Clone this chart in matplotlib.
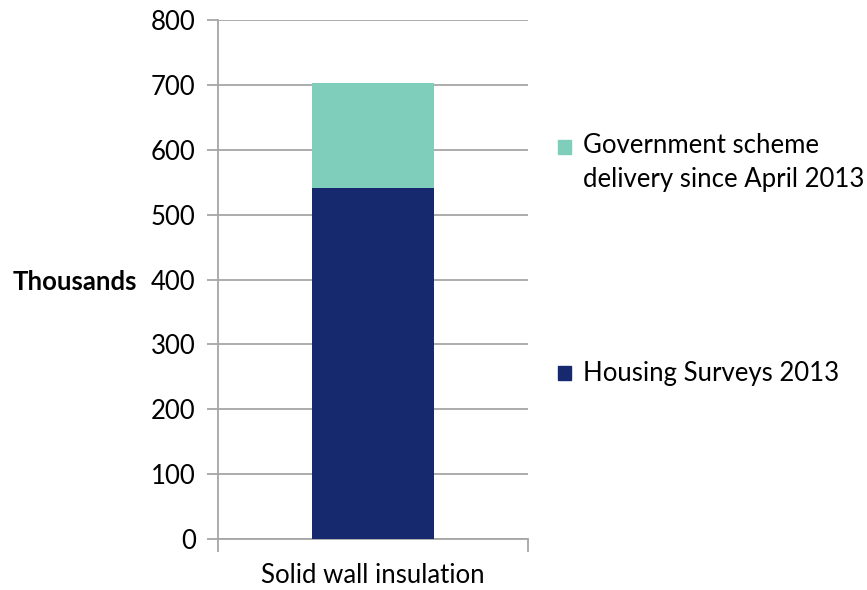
import matplotlib.pyplot as plt
from matplotlib.patches import Rectangle

plt.rcParams['font.family'] = ['Lato', 'DejaVu Sans']

categories = ['Solid wall insulation']
housing_surveys = [541]
govt_delivery = [162]
series_labels = ['Government scheme\ndelivery since April 2013', 'Housing Surveys 2013']
colors = ['#7FCDBB', '#16286E']
grid_col = '#A6A6A6'
fs = 18.5

fig = plt.figure(figsize=(8.67, 5.90), dpi=100)
ax = fig.add_axes([0.2514, 0.0864, 0.3576, 0.8797])

x = list(range(len(categories)))
ax.bar(x, housing_surveys, width=0.395, color=colors[1], zorder=3)
ax.bar(x, govt_delivery, width=0.395, bottom=housing_surveys, color=colors[0], zorder=3)

ax.set_xlim(-0.5, 0.5)
ax.set_ylim(0, 800)
ax.set_yticks(range(0, 801, 100))
ax.yaxis.grid(True, color=grid_col, linewidth=1.3, zorder=0)
ax.tick_params(axis='y', length=8, width=1.3, color=grid_col, labelsize=fs, pad=8)

ax.set_xticks(x)
ax.set_xticklabels(categories)
ax.tick_params(axis='x', length=0, labelsize=fs, pad=17)
ax.set_xticks([-0.5, 0.5], minor=True)
ax.tick_params(axis='x', which='minor', length=9, width=1.3, color=grid_col)

for s in ['top', 'right']:
    ax.spines[s].set_visible(False)
for s in ['left', 'bottom']:
    ax.spines[s].set_color(grid_col)
    ax.spines[s].set_linewidth(1.3)

fig.text(0.014, 0.522, 'Thousands', fontsize=fs, fontweight='bold', va='center', ha='left')

# legend entries placed by hand on the right
fig.patches.append(Rectangle((0.6435, 0.739), 0.015, 0.023,
                             transform=fig.transFigure, color=colors[0]))
fig.text(0.672, 0.774, series_labels[0], fontsize=fs, va='top', ha='left', linespacing=1.45)
fig.patches.append(Rectangle((0.6435, 0.356), 0.015, 0.023,
                             transform=fig.transFigure, color=colors[1]))
fig.text(0.672, 0.367, series_labels[1], fontsize=fs, va='center', ha='left')

fig.savefig('out.png', dpi=100)
